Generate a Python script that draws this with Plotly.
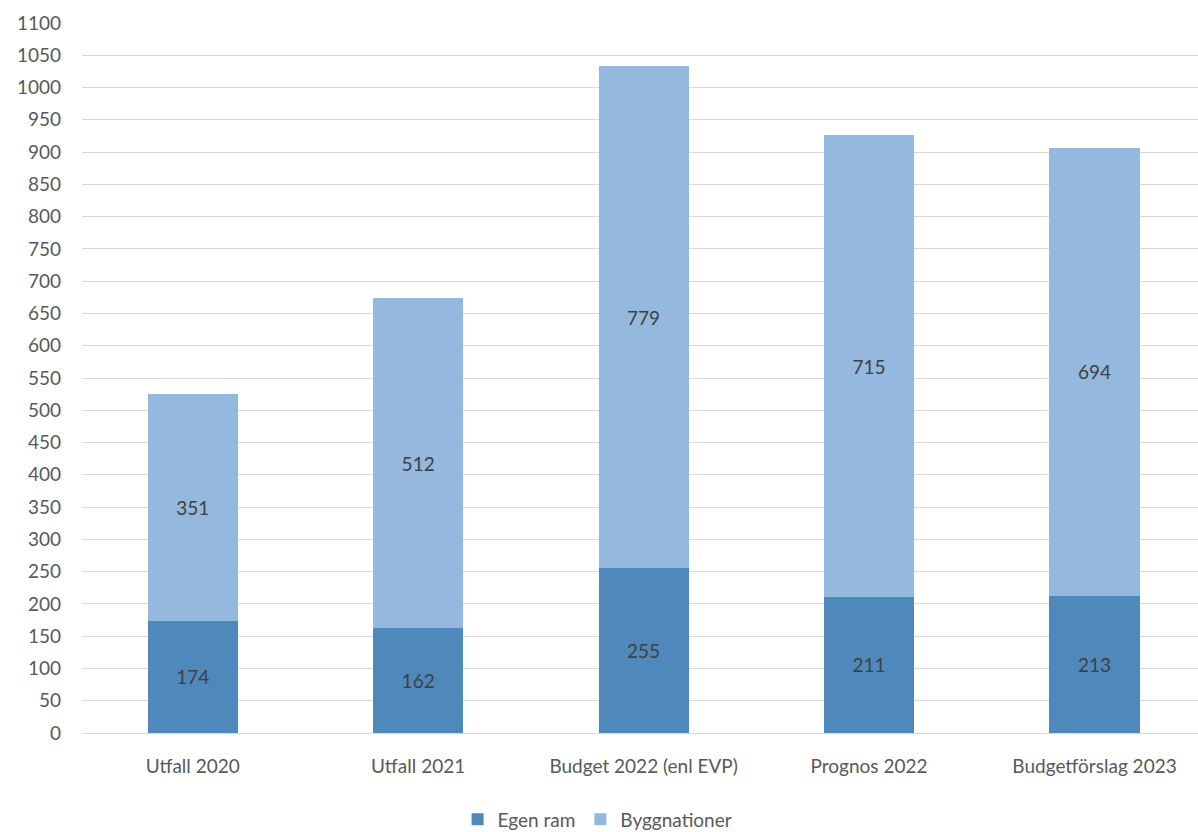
import plotly.graph_objects as go

categories = ["Utfall 2020", "Utfall 2021", "Budget 2022 (enl EVP)", "Prognos 2022", "Budgetförslag 2023"]
egen_ram = [174, 162, 255, 211, 213]
byggnationer = [351, 512, 779, 715, 694]
y_ticks = list(range(0, 1101, 50))

FONT = "Lato"
fig = go.Figure()
fig.add_trace(go.Bar(
    x=categories, y=egen_ram, name="Egen ram",
    marker=dict(color="#4F88BB", line=dict(width=0)),
    text=[str(v) for v in egen_ram], textposition="inside", insidetextanchor="middle",
    textfont=dict(color="#404040", size=19, family=FONT),
))
fig.add_trace(go.Bar(
    x=categories, y=byggnationer, name="Byggnationer",
    marker=dict(color="#95B8DF", line=dict(width=0)),
    text=[str(v) for v in byggnationer], textposition="inside", insidetextanchor="middle",
    textfont=dict(color="#404040", size=19, family=FONT),
))
fig.update_layout(
    barmode="stack", bargap=0.6,
    width=1198, height=832,
    margin=dict(l=82, r=0, t=23, b=99),
    paper_bgcolor="white", plot_bgcolor="white",
    font=dict(family=FONT, size=19, color="#595959"),
    legend=dict(orientation="h", x=0.462, xanchor="center", yref="container", y=0.015, yanchor="middle",
                font=dict(size=19, color="#595959"), traceorder="normal", itemwidth=30),
    xaxis=dict(range=[-0.491, 4.459], showgrid=False, showline=True, linecolor="#D9D9D9", linewidth=1,
               ticks="", ticklabelstandoff=16, tickfont=dict(size=19, color="#595959")),
    yaxis=dict(range=[0, 1100], tickvals=y_ticks, showgrid=True, gridcolor="#D9D9D9", gridwidth=1,
               zeroline=False, ticks="", ticklabelstandoff=20, tickfont=dict(size=19, color="#595959")),
)
fig.write_html("out.html", config={"displayModeBar": False},
               post_script="document.body.style.margin='0';document.body.style.overflow='hidden';")
